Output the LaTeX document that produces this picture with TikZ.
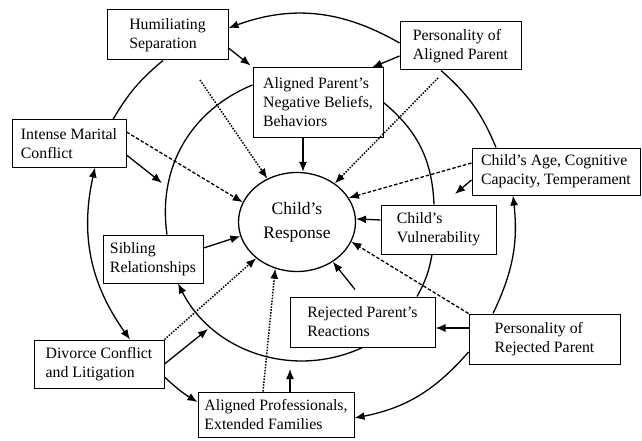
\documentclass[tikz,border=0pt]{standalone}
\usepackage{fontspec}
\setmainfont{Liberation Serif}
\usetikzlibrary{arrows.meta,shapes.geometric}
\begin{document}
\begin{tikzpicture}[x=1pt,y=-1pt,
  box/.style={draw, fill=white, line width=1pt, align=left, inner sep=2pt,
              font=\fontsize{15.8}{19}\selectfont},
  ring/.style={line width=1.3pt},
  tip/.tip={Latex[length=10pt,width=8pt]},
  arr/.style={line width=1.3pt, -tip},
  biarr/.style={line width=1.3pt, tip-tip},
  dotarr/.style={arr, line width=1.5pt, dash pattern=on 1.5pt off 1.4pt},
  dasharr/.style={arr, line width=1.3pt, dash pattern=on 3.5pt off 2pt},
]
\useasboundingbox (0,0) rectangle (642,441);

% boxes
\node[box, minimum width=121pt, minimum height=50pt] (HS) at (167.5,35) {Humiliating\\Separation};
\node[box, minimum width=121pt, minimum height=48pt] (PAP) at (460.5,46) {Personality of\\Aligned Parent};
\node[box, minimum width=130pt, minimum height=69pt] (APNB) at (318,102.5) {Aligned Parent's\\Negative Beliefs,\\Behaviors};
\node[box, minimum width=114pt, minimum height=47pt] (IMC) at (69,143.5) {Intense Marital\\Conflict};
\node[box, minimum width=168pt, minimum height=47pt] (CA) at (556,171.5) {Child's Age, Cognitive\\Capacity, Temperament};
\node[box, minimum width=115pt, minimum height=49pt] (CV) at (438.5,229.5) {Child's\\Vulnerability};
\node[box, minimum width=100pt, minimum height=48pt] (SR) at (153,259) {Sibling\\Relationships};
\node[box, minimum width=145pt, minimum height=50pt] (RPR) at (362.5,322) {Rejected Parent's\\Reactions};
\node[box, minimum width=151pt, minimum height=50pt] (PRP) at (544.5,339) {Personality of\\Rejected Parent};
\node[box, minimum width=130pt, minimum height=48pt] (DC) at (99,364) {Divorce Conflict\\and Litigation};
\node[box, minimum width=156pt, minimum height=45pt] (AP) at (276,414.5) {Aligned Professionals,\\Extended Families};

% central response
\node[ellipse, draw, line width=1.3pt, minimum width=117pt, minimum height=99pt, inner sep=0pt,
      align=center, font=\fontsize{17.5}{24}\selectfont] (CR) at (297,222) {Child's\\Response};

% free ends
\coordinate (d1) at (200,80);
\coordinate (e1) at (438,78);
\coordinate (g1) at (162,183);
\coordinate (i1) at (455,194);
\coordinate (p1) at (208,329);
\coordinate (r1) at (290,369);

% outer ring
\draw[arr] ([yshift=3pt]PAP.west) to[bend right=25] ([yshift=7pt]HS.east);
\draw[ring] ([xshift=-4.5pt]HS.south) to[bend right=10] ([xshift=44pt]IMC.north);
\draw[biarr] ([xshift=26pt]IMC.south) to[bend right=24] ([xshift=31pt]DC.north);
\draw[arr] ([yshift=-13pt]DC.east) to[bend right=6] ([yshift=12.5pt]AP.west);
\draw[arr] ([yshift=-13pt]PRP.west) to[bend left=19] ([yshift=-3.5pt]AP.east);
\draw[arr] ([xshift=-51.5pt]PRP.north) to[bend right=16] ([xshift=-43pt]CA.south);
\draw[ring] ([xshift=-60pt]CA.north) to[bend right=13] ([xshift=-19.5pt]PAP.south);

% middle ring
\draw[ring] ([yshift=17.5pt]APNB.west) to[bend right=38] ([xshift=14pt]SR.north);
\draw[arr] (RPR.south) to[bend left=44] ([xshift=25pt]SR.south);
\draw[ring] ([xshift=54.5pt]RPR.north) to[bend right=9.5] ([xshift=-6.5pt]CV.south);
\draw[ring] ([xshift=-4.5pt]CV.north) to[bend right=24] (APNB.east);

% solid arrows
\draw[arr] ([yshift=-13pt]HS.east) -- ([shift={(-2pt,2pt)}]APNB.north west);
\draw[arr] ([yshift=-10pt]PAP.west) -- ([xshift=54pt]APNB.north);
\draw[arr] ([xshift=-15pt]APNB.south) -- ([xshift=-15pt]APNB.south |- CR.north);
\draw[arr] ([yshift=-11.5pt]IMC.east) -- (g1);
\draw[arr] ([yshift=-8.5pt]CA.west) -- (i1);
\draw[arr] ([yshift=9.5pt]CV.west) -- (CR.3);
\draw[arr] ([yshift=11pt]PRP.west) -- ([yshift=-6pt]RPR.east);
\draw[arr] ([shift={(-7.5pt,7pt)}]RPR.north) -- (CR.-48);
\draw[arr] ([yshift=11pt]SR.east) -- (CR.194);
\draw[arr] (DC.east) -- (p1);
\draw[arr] ([xshift=14pt]AP.north) -- (r1);

% dotted / dashed arrows
\draw[dotarr] (d1) -- (CR);
\draw[dotarr] (e1) -- (CR);
\draw[dasharr] ([yshift=11.5pt]IMC.east) -- (CR.160);
\draw[dasharr] ([yshift=8.5pt]CA.west) -- (CR.25);
\draw[dasharr] (PRP.north west) -- (CR.-20);
\draw[dotarr] (DC.north east) -- (CR);
\draw[dotarr] ([xshift=-13pt]AP.north) -- (CR.245);
\end{tikzpicture}
\end{document}
